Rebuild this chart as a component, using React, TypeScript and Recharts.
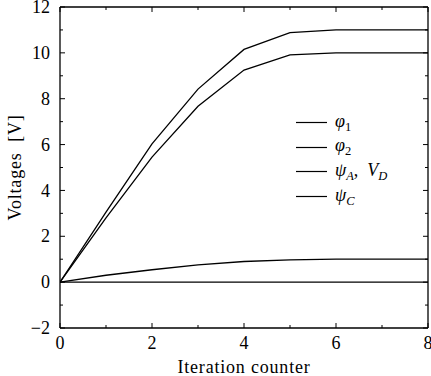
import React from "react";
import { LineChart, Line, XAxis, YAxis, Legend } from "recharts";

// iteration counter (x) and the voltages of each node
const iterations = [0, 1, 2, 3, 4, 5, 6, 7, 8];
const phi1 = [0, 3.05, 6.03, 8.42, 10.15, 10.88, 11.0, 11.0, 11.0];
const phi2 = [0, 2.8, 5.45, 7.67, 9.25, 9.91, 10.0, 10.0, 10.0];
const psiA = [0, 0.3, 0.54, 0.75, 0.9, 0.97, 1.0, 1.0, 1.0];
const psiC = [0, 0, 0, 0, 0, 0, 0, 0, 0];

const xTicks = [0, 1, 2, 3, 4, 5, 6, 7, 8];
const yTicks = [-2, -1, 0, 1, 2, 3, 4, 5, 6, 7, 8, 9, 10, 11, 12];

const seriesKeys = ["phi1", "phi2", "psiA", "psiC"];
const seriesNames = ["φ1", "φ2", "ψA, VD", "ψC"];

const data = iterations.map((it, i) => ({
  it,
  phi1: phi1[i],
  phi2: phi2[i],
  psiA: psiA[i],
  psiC: psiC[i],
}));

const FONT = "'Liberation Serif', 'Times New Roman', serif";
const fmt = (v: number) => (v < 0 ? "\u2212" + Math.abs(v) : String(v));
const isMajor = (v: number) => v % 2 === 0;

const BottomTick = (props: any) => {
  const { x, y, payload } = props;
  const v = payload.value;
  return (
    <g>
      <line x1={x} x2={x} y1={y} y2={y - (isMajor(v) ? 5 : 3)} stroke="#000" strokeWidth={1} />
      {isMajor(v) && (
        <text x={x} y={y + 21} textAnchor="middle" fontFamily={FONT} fontSize={18} fill="#000">
          {fmt(v)}
        </text>
      )}
    </g>
  );
};

const TopTick = (props: any) => {
  const { x, y, payload } = props;
  return <line x1={x} x2={x} y1={y} y2={y + (isMajor(payload.value) ? 5 : 3)} stroke="#000" strokeWidth={1} />;
};

const LeftTick = (props: any) => {
  const { x, y, payload } = props;
  const v = payload.value;
  return (
    <g>
      <line x1={x} x2={x + (isMajor(v) ? 5 : 3)} y1={y} y2={y} stroke="#000" strokeWidth={1} />
      {isMajor(v) && (
        <text x={x - 10} y={y} dy="0.34em" textAnchor="end" fontFamily={FONT} fontSize={18} fill="#000">
          {fmt(v)}
        </text>
      )}
    </g>
  );
};

const RightTick = (props: any) => {
  const { x, y, payload } = props;
  return <line x1={x} x2={x - (isMajor(payload.value) ? 5 : 3)} y1={y} y2={y} stroke="#000" strokeWidth={1} />;
};

const Sym = ({ base, sub, subItalic }: { base: string; sub: string; subItalic?: boolean }) => (
  <span>
    <i>{base}</i>
    <sub style={{ fontSize: 12.5, fontStyle: subItalic ? "italic" : "normal", verticalAlign: "-4px" }}>{sub}</sub>
  </span>
);

const legendLabels = [
  <Sym base="φ" sub="1" />,
  <Sym base="φ" sub="2" />,
  <span>
    <Sym base="ψ" sub="A" subItalic />,&nbsp; <Sym base="V" sub="D" subItalic />
  </span>,
  <Sym base="ψ" sub="C" subItalic />,
];

const renderLegend = (props: any) => {
  const { payload } = props;
  return (
    <div style={{ fontFamily: FONT, fontSize: 18, color: "#000" }}>
      {(payload || []).map((entry: any, i: number) => (
        <div key={i} style={{ display: "flex", alignItems: "center", height: 24.7 }}>
          <svg width={31} height={3} style={{ display: "block" }}>
            <line x1={0} x2={31} y1={1.5} y2={1.5} stroke={entry.color} strokeWidth={1.2} />
          </svg>
          <span style={{ marginLeft: 8, lineHeight: 1 }}>{legendLabels[i]}</span>
        </div>
      ))}
    </div>
  );
};

export default function App() {
  return (
    <div style={{ position: "absolute", left: 0, top: 0, background: "#fff" }}>
      <LineChart width={431} height={376} data={data} margin={{ top: 0, right: 0, bottom: 0, left: 0 }}>
        <XAxis
          dataKey="it"
          type="number"
          domain={[0, 8]}
          ticks={xTicks}
          interval={0}
          allowDataOverflow
          height={48}
          tickSize={0}
          tickMargin={0}
          tick={<BottomTick />}
          axisLine={{ stroke: "#000", strokeWidth: 1.3 }}
          label={{ value: "Iteration counter", position: "insideBottom", offset: 3, fontFamily: FONT, fontSize: 18, fill: "#000", letterSpacing: 0.8 }}
        />
        <XAxis
          xAxisId="top"
          orientation="top"
          dataKey="it"
          type="number"
          domain={[0, 8]}
          ticks={xTicks}
          interval={0}
          allowDataOverflow
          height={7}
          tickSize={0}
          tickMargin={0}
          tick={<TopTick />}
          axisLine={{ stroke: "#000", strokeWidth: 1.3 }}
        />
        <YAxis
          type="number"
          domain={[-2, 12]}
          ticks={yTicks}
          interval={0}
          allowDataOverflow
          width={60}
          tickSize={0}
          tickMargin={0}
          tick={<LeftTick />}
          axisLine={{ stroke: "#000", strokeWidth: 1.3 }}
          label={{ value: "Voltages\u00a0\u00a0[V]", angle: -90, position: "insideLeft", offset: 15, style: { textAnchor: "middle" }, fontFamily: FONT, fontSize: 18, fill: "#000", letterSpacing: 0.8 }}
        />
        <YAxis
          yAxisId="right"
          orientation="right"
          type="number"
          domain={[-2, 12]}
          ticks={yTicks}
          interval={0}
          allowDataOverflow
          width={3}
          tickSize={0}
          tickMargin={0}
          tick={<RightTick />}
          axisLine={{ stroke: "#000", strokeWidth: 1.3 }}
        />
        <Legend
          content={renderLegend}
          layout="vertical"
          align="center"
          verticalAlign="middle"
          wrapperStyle={{ position: "absolute", left: 296, top: 110, width: "auto", bottom: "auto" }}
        />
        {seriesKeys.map((k, i) => (
          <Line
            key={k}
            dataKey={k}
            name={seriesNames[i]}
            stroke="#000"
            strokeWidth={1.3}
            dot={false}
            activeDot={false}
            type="linear"
            isAnimationActive={false}
          />
        ))}
      </LineChart>
    </div>
  );
}
